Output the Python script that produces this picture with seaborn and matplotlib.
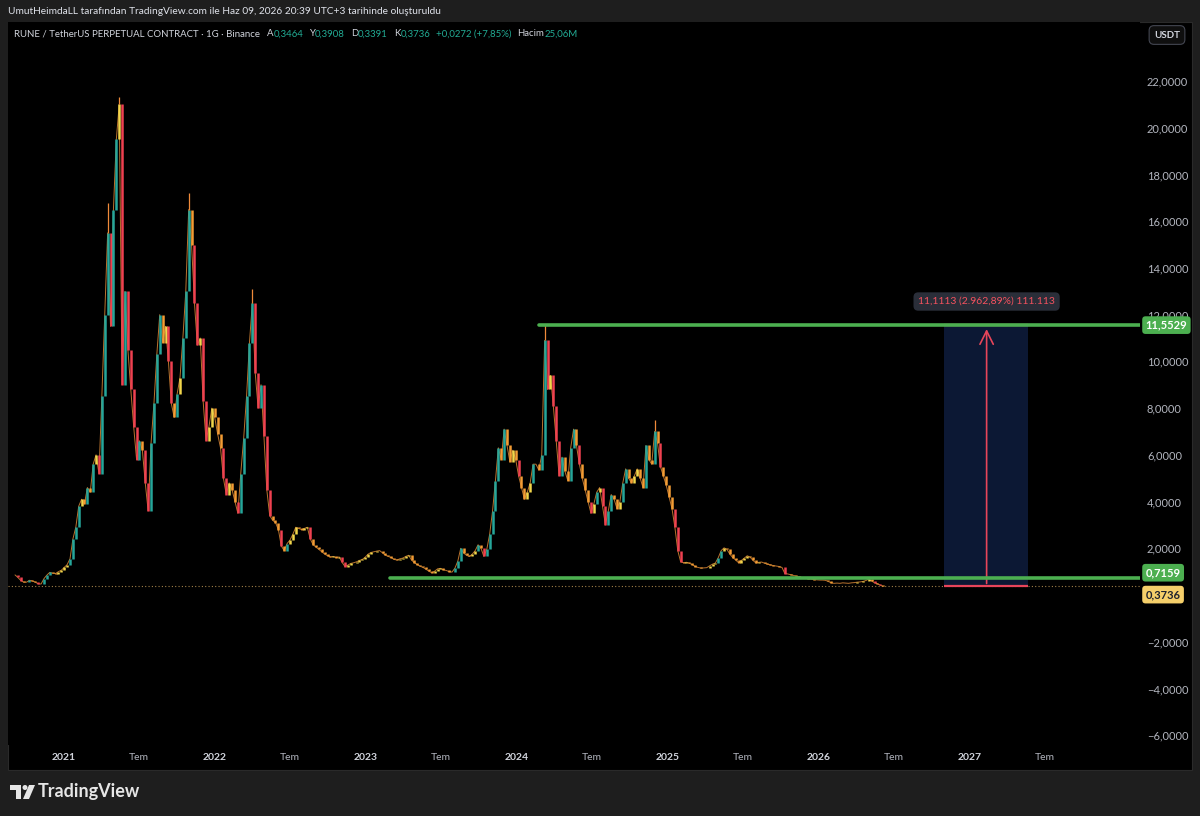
import matplotlib
matplotlib.use('Agg')
import matplotlib.pyplot as plt
import matplotlib.patches as mpatches
import seaborn as sns
import pandas as pd
import numpy as np

# weekly closes RUNE/USDT (Sep 2020 -> Jun 2026)
start_date = '2020-09-05'
closes = [
    0.86, 0.75, 0.62, 0.55, 0.55, 0.63, 0.60, 0.55, 0.48, 0.47,
    0.70, 0.85, 0.97, 0.93, 0.92, 1.00, 1.06, 1.18, 1.30, 1.55,
    2.40, 2.90, 3.80, 4.10, 3.90, 4.60, 4.40, 5.60, 6.00, 5.20,
    8.50, 12.0, 15.5, 11.5, 16.5, 19.5, 21.0, 9.0, 13.0, 10.5,
    8.8, 7.2, 5.8, 6.6, 6.2, 4.8, 3.6, 6.5, 8.2, 10.3,
    12.0, 10.8, 11.5, 10.0, 8.2, 7.6, 8.6, 9.3, 11.0, 13.0,
    16.5, 15.0, 12.5, 10.7, 11.0, 8.3, 6.6, 7.2, 8.0, 7.6,
    6.9, 6.3, 5.0, 4.3, 4.8, 4.5, 4.0, 3.5, 5.2, 6.7,
    8.5, 10.8, 12.5, 9.5, 8.0, 9.0, 6.8, 4.5, 3.4, 3.2,
    3.1, 2.8, 2.1, 1.9, 2.2, 2.35, 2.6, 2.9, 2.85, 2.8,
    2.85, 2.9, 2.4, 2.15, 2.05, 1.95, 1.85, 1.75, 1.68, 1.63,
    1.65, 1.60, 1.63, 1.40, 1.22, 1.28, 1.35, 1.38, 1.42, 1.48,
    1.52, 1.62, 1.75, 1.82, 1.85, 1.88, 1.90, 1.80, 1.70, 1.65,
    1.60, 1.52, 1.50, 1.55, 1.58, 1.65, 1.70, 1.50, 1.38, 1.30,
    1.23, 1.18, 1.10, 1.02, 0.95, 1.02, 1.12, 1.14, 1.08, 1.05,
    1.00, 0.98, 1.15, 1.45, 2.00, 1.80, 1.70, 1.65, 1.75, 1.90,
    2.15, 2.00, 1.65, 1.95, 2.60, 3.60, 4.90, 6.30, 5.80, 7.10,
    6.40, 5.70, 6.20, 5.80, 5.10, 4.60, 4.10, 4.40, 4.80, 5.60,
    5.60, 5.35, 6.00, 10.9, 8.8, 9.4, 8.1, 6.6, 5.1, 5.9,
    5.3, 4.9, 6.3, 7.1, 6.4, 5.6, 5.0, 4.5, 4.0, 3.5,
    3.9, 4.4, 4.6, 3.8, 3.0, 3.6, 4.3, 4.1, 3.7, 4.0,
    4.8, 5.4, 5.0, 4.8, 5.1, 5.4, 5.0, 4.6, 6.4, 5.8,
    5.6, 7.0, 6.5, 5.5, 5.1, 4.7, 4.2, 3.7, 2.9, 1.9,
    1.42, 1.38, 1.40, 1.36, 1.30, 1.22, 1.18, 1.15, 1.16, 1.17,
    1.25, 1.32, 1.37, 1.60, 1.90, 2.02, 1.95, 1.75, 1.60, 1.50,
    1.38, 1.48, 1.58, 1.68, 1.62, 1.48, 1.37, 1.40, 1.41, 1.36,
    1.32, 1.29, 1.26, 1.24, 1.22, 1.18, 0.92, 0.90, 0.87, 0.84,
    0.80, 0.77, 0.75, 0.73, 0.70, 0.68, 0.66, 0.65, 0.64, 0.64,
    0.63, 0.58, 0.52, 0.50, 0.51, 0.50, 0.52, 0.51, 0.50, 0.52,
    0.53, 0.55, 0.56, 0.58, 0.62, 0.68, 0.60, 0.52, 0.48, 0.42, 0.37,
]
# wick highs on the big spikes
peak_idx = [32, 36, 60, 82, 183, 221]
peak_high = [16.8, 21.3, 17.2, 13.1, 11.55, 7.5]

last_price = 0.3736
support = 0.7159
resistance = 11.5529
support_start = '2023-02-28'
resistance_start = '2024-02-25'
range_start, range_end, range_arrow = '2026-10-31', '2027-05-23', '2027-02-11'
range_text = '11,1113 (2.962,89%) 111.113'

header = 'UmutHeimdaLL tarafından TradingView.com ile Haz 09, 2026 20:39 UTC+3 tarihinde oluşturuldu'
legend_runs = [
    ('RUNE / TetherUS PERPETUAL CONTRACT · 1G · Binance', 'lbl', 7), ('A', 'lbl', 0), ('0,3464', 'val', 6),
    ('Y', 'lbl', 0), ('0,3908', 'val', 6), ('D', 'lbl', 0), ('0,3391', 'val', 6),
    ('K', 'lbl', 0), ('0,3736', 'val', 6), ('+0,0272 (+7,85%)', 'val', 6),
    ('Hacim', 'lbl', 0), ('25,06M', 'val', 0),
]
y_ticks = list(range(-6, 23, 2))
x_years = [2021, 2022, 2023, 2024, 2025, 2026, 2027]

W, H = 1200, 816
BG = '#1e1e1e'
FAM = ['Lato', 'DejaVu Sans']

sns.set_theme(style='dark', rc={'axes.facecolor': 'black', 'figure.facecolor': BG})
plt.rcParams['font.family'] = FAM

fig = plt.figure(figsize=(W / 100, H / 100), dpi=100)
fig.patches.append(mpatches.Rectangle((8 / W, 1 - 770 / H), 1184 / W, 748 / H,
                                      transform=fig.transFigure, facecolor='black',
                                      edgecolor='#2a2a2a', lw=0.8, zorder=-5))
ax = fig.add_axes([8 / W, 1 - 745 / H, 1132 / W, 723 / H])
ax.set_zorder(1)
ax.set_facecolor('black')

dates = pd.date_range(start_date, periods=len(closes), freq='7D')
c = np.array(closes)
o = np.r_[c[0], c[:-1]]
chg = (c - o) / o
cols = np.where(chg > 0.12, '#26a69a', np.where(chg >= 0, '#f2d64b',
                np.where(chg > -0.12, '#f39c34', '#ef4150')))
# thin trace under the candles so the series reads as one continuous line
sns.lineplot(x=dates, y=c, color='#e8903a', linewidth=0.7, alpha=0.8, ax=ax, zorder=2)
ax.vlines(dates, np.minimum(o, c), np.maximum(o, c), colors=cols, linewidth=1.8, zorder=3)
ax.vlines(dates[peak_idx], c[peak_idx], peak_high, colors='#ef8a3a', linewidth=0.9, zorder=3)

x_left, x_right = pd.Timestamp('2020-08-19'), pd.Timestamp('2028-02-17')

# price range tool
r0, r1, ra = pd.Timestamp(range_start), pd.Timestamp(range_end), pd.Timestamp(range_arrow)
ax.fill_between([r0, r1], last_price, resistance, color='#0c1834', lw=0, zorder=1)
ax.hlines([last_price, resistance], r0, r1, colors='#e8455a', linewidth=1.6, zorder=4)
ax.annotate('', xy=(ra, resistance - 0.05), xytext=(ra, last_price),
            arrowprops=dict(arrowstyle='->', color='#e8455a', lw=1.2, mutation_scale=24), zorder=4)
ax.annotate(range_text, xy=(ra, resistance), xytext=(0, 17), textcoords='offset points',
            ha='center', va='center', color='#f7525f', fontsize=7.5, zorder=6,
            bbox=dict(boxstyle='round,pad=0.45', fc='#2a2e39', ec='none'))

# support / resistance lines
sns.lineplot(x=[pd.Timestamp(resistance_start), x_right], y=[resistance, resistance],
             color='#4caf50', linewidth=2.6, ax=ax, zorder=5)
sns.lineplot(x=[pd.Timestamp(support_start), x_right], y=[support, support],
             color='#4caf50', linewidth=2.6, ax=ax, zorder=5)
ax.axhline(last_price, color='#c9a05a', linestyle=(0, (1, 2)), linewidth=0.8, alpha=0.8, zorder=2)

ax.set_xlim(x_left, x_right)
ax.set_ylim((595 - 745) / 23.36, (595 - 22) / 23.36)
for s in ax.spines.values():
    s.set_visible(False)
ax.grid(False)

ax.yaxis.tick_right()
ax.set_yticks(y_ticks)
ax.set_yticklabels([f'{v:.4f}'.replace('.', ',').replace('-', '−') for v in y_ticks])
ax.tick_params(axis='y', length=0, pad=5, labelsize=8, labelcolor='#b2b5be')

xt, xl = [], []
for yr in x_years:
    xt += [pd.Timestamp(f'{yr}-01-01'), pd.Timestamp(f'{yr}-07-01')]
    xl += [str(yr), 'Tem']
ax.set_xticks(xt)
ax.set_xticklabels(xl)
ax.tick_params(axis='x', length=0, pad=6, labelsize=7.5, labelcolor='#b2b5be')
for t in ax.get_xticklabels():
    if t.get_text() != 'Tem':
        t.set_fontweight('bold')
        t.set_color('#d1d4dc')
ax.set_xlabel('')
ax.set_ylabel('')

# right-side price labels
def price_tag(val, dy, fc, tc):
    ax.annotate(f'{val:.4f}'.replace('.', ','), xy=(1.0, val), xycoords=('axes fraction', 'data'),
                xytext=(4, dy), textcoords='offset points', ha='left', va='center',
                fontsize=8, color=tc, fontweight='bold', zorder=10, annotation_clip=False,
                bbox=dict(boxstyle='round,pad=0.3', fc=fc, ec='none'))

price_tag(resistance, 0, '#4caf50', 'white')
price_tag(support, 4, '#4caf50', 'white')
price_tag(last_price, -6, '#f5cf6a', '#1e222d')

# header texts
fig.text(8 / W, 1 - 12 / H, header, color='#e0e3eb', fontsize=7.3, va='center', ha='left')
r = fig.canvas.get_renderer()
x = 14
for txt, kind, gap in legend_runs:
    t = fig.text(x / W, 1 - 34 / H, txt, color='#d1d4dc' if kind == 'lbl' else '#22ab94',
                 fontsize=6.9, va='center', ha='left')
    x += t.get_window_extent(renderer=r).width + gap

fig.text(1167 / W, 1 - 35 / H, 'USDT', color='#d1d4dc', fontsize=7, fontweight='bold',
         ha='center', va='center',
         bbox=dict(boxstyle='round,pad=0.5', fc='#0f0f0f', ec='#434651', lw=0.8))

# TradingView logo
def fx(px): return px / W
def fy(py): return 1 - py / H
logo_c = '#e6e6e6'
fig.patches.append(mpatches.Polygon([(fx(10), fy(785)), (fx(21), fy(785)), (fx(21), fy(799)),
                                     (fx(16), fy(799)), (fx(16), fy(790)), (fx(10), fy(790))],
                                    closed=True, transform=fig.transFigure, fc=logo_c, ec='none'))
fig.patches.append(mpatches.Ellipse((fx(25), fy(787.5)), 5 / W, 5 / H,
                                    transform=fig.transFigure, fc=logo_c, ec='none'))
fig.patches.append(mpatches.Polygon([(fx(29), fy(785)), (fx(35), fy(785)), (fx(29), fy(799)),
                                     (fx(23), fy(799))],
                                    closed=True, transform=fig.transFigure, fc=logo_c, ec='none'))
fig.text(38 / W, 1 - 792 / H, 'TradingView', color=logo_c, fontsize=13, fontweight='bold',
         va='center', ha='left')

fig.savefig('out.png', dpi=100, facecolor=BG)
